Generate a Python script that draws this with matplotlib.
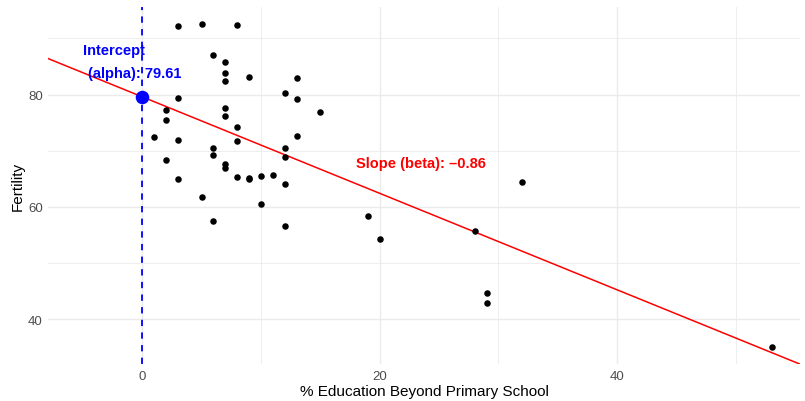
import matplotlib.pyplot as plt
import numpy as np

plt.rcParams['font.family'] = ['Liberation Sans', 'DejaVu Sans']

# swiss fertility data (1888)
education = [12, 9, 5, 7, 15, 7, 7, 8, 7, 13, 6, 12, 7, 12, 5, 2, 8, 28, 20, 9,
             10, 3, 12, 6, 1, 8, 3, 10, 19, 8, 2, 6, 2, 6, 3, 9, 3, 13, 12, 11,
             13, 32, 7, 7, 53, 29, 29]
fertility = [80.2, 83.1, 92.5, 85.8, 76.9, 76.1, 83.8, 92.4, 82.4, 82.9, 87.1,
             64.1, 66.9, 68.9, 61.7, 68.3, 71.7, 55.7, 54.3, 65.1, 65.5, 65.0,
             56.6, 57.4, 72.5, 74.2, 72.0, 60.5, 58.3, 65.4, 75.5, 69.3, 77.3,
             70.5, 79.4, 65.0, 92.2, 79.3, 70.4, 65.7, 72.7, 64.4, 77.6, 67.6,
             35.0, 44.7, 42.8]

alpha = 79.61
beta = -0.86

fig, ax = plt.subplots(figsize=(8.05, 4.02), dpi=100)
fig.subplots_adjust(left=0.06, right=0.994, top=0.98, bottom=0.092)

xlim = (-7.9, 55.4)
ylim = (32.0, 95.6)

# grid like theme_minimal
for v in [0, 10, 20, 30, 40, 50]:
    ax.axvline(v, color='#ebebeb', lw=1.0 if v % 20 == 0 else 0.6, zorder=0)
for v in [40, 50, 60, 70, 80, 90]:
    ax.axhline(v, color='#ebebeb', lw=1.0 if v % 20 == 0 else 0.6, zorder=0)

ax.scatter(education, fertility, s=22, color='black', zorder=3, linewidths=0)

xs = np.array(xlim)
ax.plot(xs, alpha + beta * xs, color='red', lw=1.1, zorder=2)
ax.axvline(0, color='blue', lw=1.3, ls=(0, (3.5, 3.5)), zorder=2)
ax.scatter([0], [alpha], s=95, color='blue', zorder=4, linewidths=0)

ax.text(-2.4, 88.0, 'Intercept', color='blue', fontweight='bold', fontsize=10.5,
        ha='center', va='center')
ax.text(-0.6, 83.9, f'(alpha): {alpha:.2f}', color='blue', fontweight='bold',
        fontsize=10.5, ha='center', va='center')
ax.text(23.45, 67.9, f'Slope (beta): \u2013{abs(beta):.2f}', color='red',
        fontweight='bold', fontsize=10.5, ha='center', va='center')

ax.set_xlim(xlim)
ax.set_ylim(ylim)
ax.set_xticks([0, 20, 40])
ax.set_yticks([40, 60, 80])
ax.tick_params(length=0, labelsize=9.5, labelcolor='#4d4d4d', pad=4)
for s in ax.spines.values():
    s.set_visible(False)
ax.set_xlabel('% Education Beyond Primary School', fontsize=11, labelpad=1.5)
ax.set_ylabel('Fertility', fontsize=11, labelpad=2)

plt.savefig('out.png', dpi=100)
